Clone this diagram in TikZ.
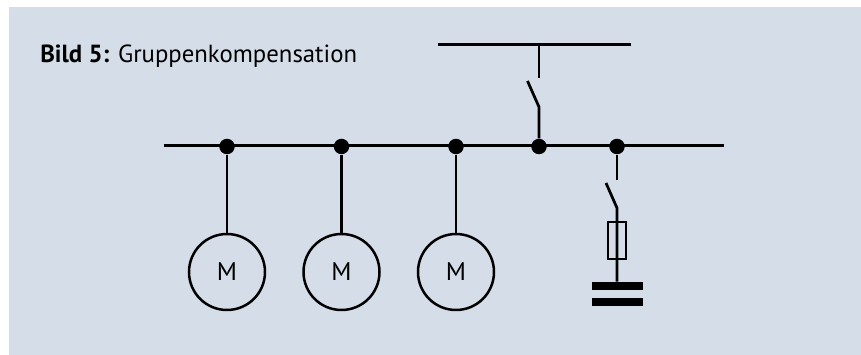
\documentclass[tikz,border=0pt]{standalone}
\usepackage{fontspec}
\setmainfont{PT Sans}
\definecolor{panelblue}{HTML}{D5DDE8}
\tikzset{
  wire/.style={black, line width=0.055 cm},
  junction/.style={circle, fill=black, inner sep=0pt, minimum size=0.31 cm},
  motor/.style={circle, draw=black, line width=0.05 cm, inner sep=0pt, minimum size=1.52 cm, font=\fontsize{14.5}{16}\selectfont},
  fuse/.style={rectangle, draw=black, line width=0.05 cm, inner sep=0pt, minimum width=0.36 cm, minimum height=0.74 cm},
  plate/.style={rectangle, fill=black, inner sep=0pt, minimum width=1.02 cm, minimum height=0.16 cm},
}
\begin{document}
\begin{tikzpicture}
\useasboundingbox (0,0) rectangle (17.22,7.1);
\fill[panelblue] (0.18,0) rectangle (17.22,6.96);
\node[anchor=base west, inner sep=0pt, font=\fontsize{14.1}{16}\selectfont] (title) at (0.8,5.84) {\textbf{Bild 5:} Gruppenkompensation};

% busbars
\coordinate (upperL) at (8.76,6.21);
\coordinate (upperR) at (12.62,6.21);
\coordinate (upperT) at (10.78,6.21);
\coordinate (busL) at (3.28,4.185);
\coordinate (busR) at (14.48,4.185);
\draw[wire] (upperL) -- (upperR);
\draw[wire] (busL) -- (busR);

\node[junction] (j1) at (4.54,4.17) {};
\node[junction] (j2) at (6.83,4.17) {};
\node[junction] (j3) at (9.12,4.17) {};
\node[junction] (j4) at (10.78,4.17) {};
\node[junction] (j5) at (12.34,4.17) {};

% motors
\node[motor] (m1) at (4.54,1.66) {M};
\node[motor] (m2) at (6.83,1.66) {M};
\node[motor] (m3) at (9.12,1.66) {M};
\draw[wire] (j1) -- (m1);
\draw[wire] (j2) -- (m2);
\draw[wire] (j3) -- (m3);

% feeder switch
\coordinate (feedA) at (10.78,5.54);
\coordinate (feedB) at (10.78,4.96);
\coordinate (feedC) at (10.55,5.48);
\draw[wire] (upperT) -- (feedA);
\draw[wire] (feedC) -- (feedB) -- (j4);

% capacitor branch
\coordinate (capA) at (12.34,3.50);
\coordinate (capB) at (12.34,2.94);
\coordinate (capC) at (12.12,3.44);
\node[fuse] (fuse) at (12.34,2.29) {};
\node[plate] (plateA) at (12.34,1.38) {};
\node[plate] (plateB) at (12.34,1.06) {};
\draw[wire] (j5) -- (capA);
\draw[wire] (capC) -- (capB) -- (plateA);
\end{tikzpicture}
\end{document}
